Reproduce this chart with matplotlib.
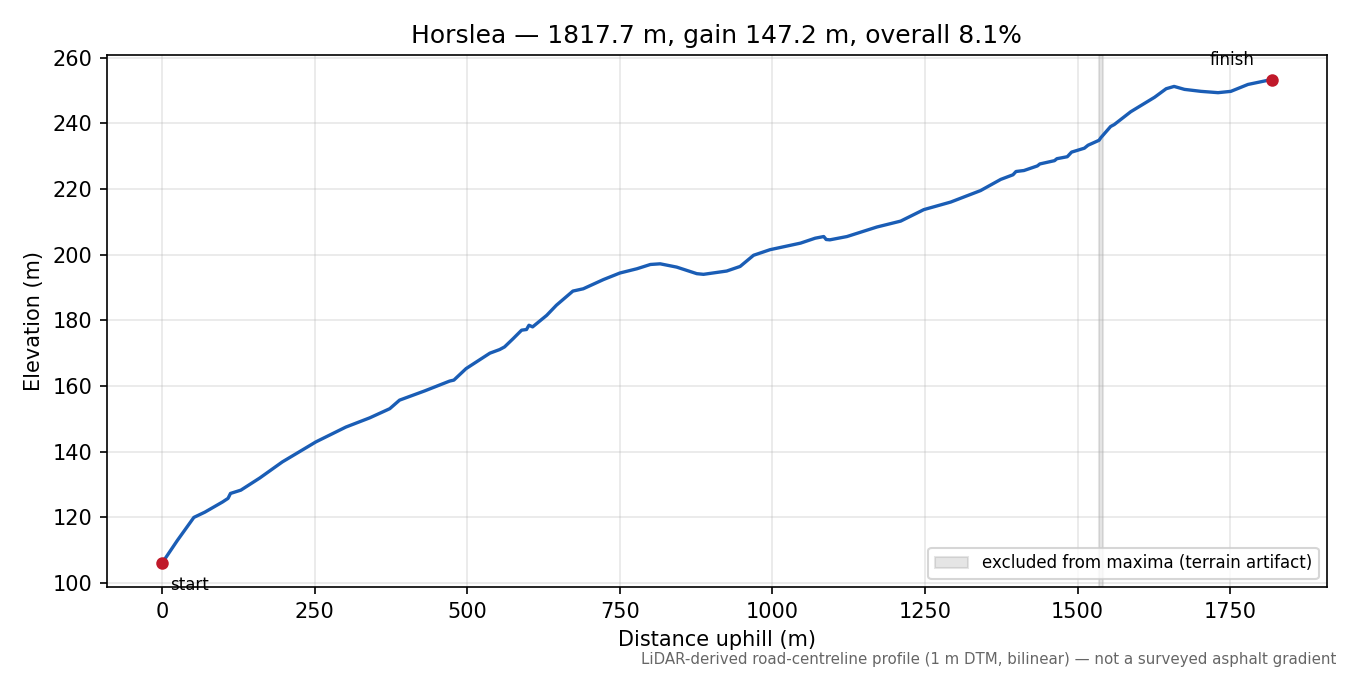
import matplotlib
matplotlib.use("Agg")
import matplotlib.pyplot as plt

# profile, distance (m) and elevation (m)
distance = [0, 25, 52, 70, 99, 108, 112, 129, 160, 197, 225, 252, 301, 340,
            373, 389, 430, 471, 478, 498, 537, 553, 561, 575, 589, 597, 601,
            607, 630, 646, 673, 690, 723, 750, 778, 800, 816, 843, 876, 887,
            925, 947, 969, 996, 1046, 1070, 1084, 1088, 1094, 1122, 1171, 1210,
            1248, 1292, 1341, 1374, 1394, 1399, 1412, 1434, 1438, 1462, 1466,
            1483, 1490, 1511, 1517, 1535, 1538, 1554, 1560, 1587, 1626, 1645,
            1658, 1675, 1702, 1730, 1751, 1779, 1817.7]
elevation = [106.1, 113.0, 120.0, 121.6, 124.7, 125.8, 127.3, 128.3, 132.0,
             136.9, 140.0, 143.0, 147.5, 150.3, 153.1, 155.7, 158.5, 161.5,
             161.8, 165.3, 170.0, 171.1, 171.9, 174.4, 177.0, 177.2, 178.5,
             178.0, 181.5, 184.6, 188.9, 189.6, 192.4, 194.4, 195.7, 197.0,
             197.2, 196.2, 194.2, 194.0, 195.0, 196.4, 199.8, 201.5, 203.5,
             205.0, 205.5, 204.6, 204.5, 205.5, 208.4, 210.2, 213.7, 216.0,
             219.5, 222.9, 224.3, 225.3, 225.6, 227.0, 227.6, 228.6, 229.2,
             229.8, 231.2, 232.4, 233.3, 234.8, 235.6, 239.0, 239.6, 243.5,
             247.9, 250.5, 251.2, 250.3, 249.7, 249.3, 249.7, 251.8, 253.3]

artifact_start = 1535
artifact_end = 1541

fig, ax = plt.subplots(figsize=(9, 4.5), dpi=150)
fig.subplots_adjust(left=0.079, right=0.983, top=0.918, bottom=0.13)

ax.plot(distance, elevation, color="#1a5db5", lw=1.6)
ax.axvspan(artifact_start, artifact_end, color="0.5", alpha=0.2,
           label="excluded from maxima (terrain artifact)")

ax.plot(distance[0], elevation[0], "o", color="#c0192a", ms=5, zorder=5)
ax.plot(distance[-1], elevation[-1], "o", color="#c0192a", ms=5, zorder=5)
ax.annotate("start", (distance[0], elevation[0]), xytext=(4, -6),
            textcoords="offset points", ha="left", va="top", fontsize=8)
ax.annotate("finish", (distance[-1], elevation[-1]), xytext=(-8, 5),
            textcoords="offset points", ha="right", va="bottom", fontsize=8)

gain = elevation[-1] - elevation[0]
length = distance[-1]
ax.set_title("Horslea \u2014 %.1f m, gain %.1f m, overall %.1f%%"
             % (length, gain, gain / length * 100), fontsize=12)
ax.set_xlabel("Distance uphill (m)")
ax.set_ylabel("Elevation (m)")
ax.grid(True, alpha=0.3)
ax.legend(loc="lower right", fontsize=8)

fig.text(0.99, 0.012, "LiDAR-derived road-centreline profile (1 m DTM, bilinear) \u2014 "
         "not a surveyed asphalt gradient", ha="right", va="bottom",
         fontsize=7.2, color="0.4")

fig.savefig("out.png")
